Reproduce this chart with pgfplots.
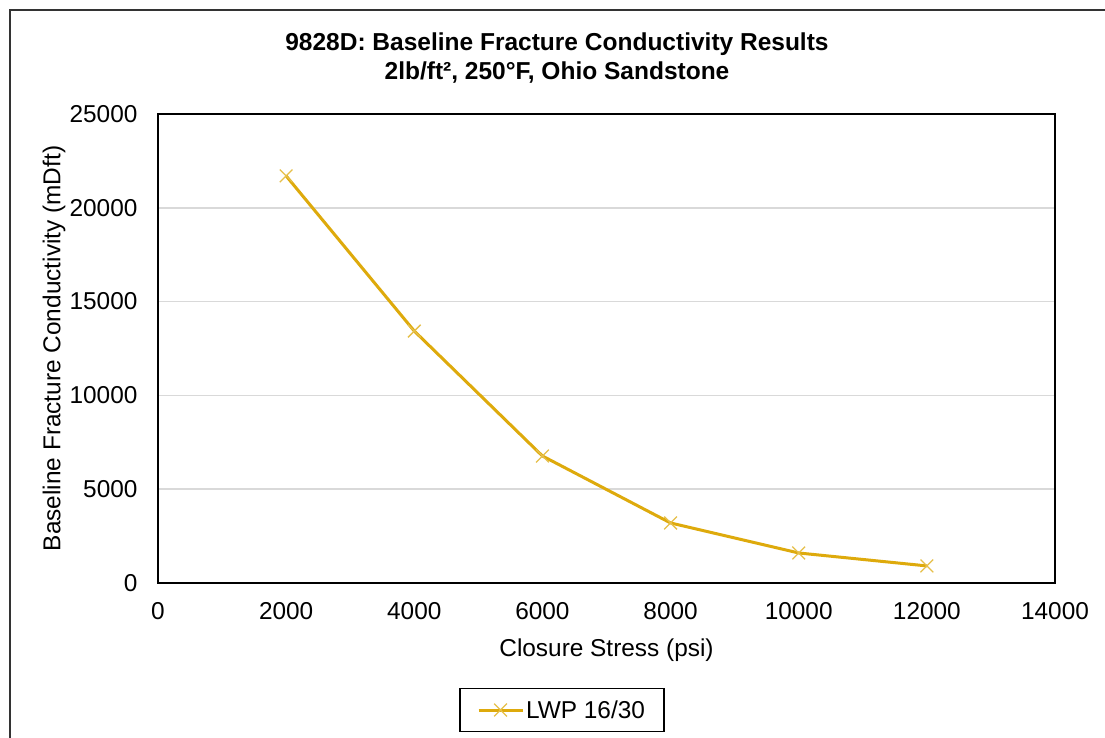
\documentclass[border=0pt]{standalone}
\usepackage{fontspec}
\setmainfont{Liberation Sans}
\usepackage{pgfplots}
\pgfplotsset{compat=1.18}
\definecolor{gold}{RGB}{222,170,12}
\definecolor{gridgray}{RGB}{217,217,217}
\begin{document}
\begin{tikzpicture}[x=1pt,y=1pt]
\useasboundingbox (0,0) rectangle (1105,738);
\fill[white] (0,0) rectangle (1105,738);
% outer chart frame (cut off at right and bottom)
\draw[line width=2.2pt, black!80] (10,0) -- (10,728) -- (1105,728);
\node[font=\fontsize{24.5}{29}\selectfont\bfseries, align=center] at (557,679.5)
  {9828D: Baseline Fracture Conductivity Results\\2lb/ft², 250°F, Ohio Sandstone};
\begin{axis}[
    at={(158pt,155pt)}, anchor=south west,
    scale only axis, width=897pt, height=469pt,
    xmin=0, xmax=14000, ymin=0, ymax=25000,
    xtick distance=2000, ytick distance=5000,
    scaled ticks=false,
    major tick length=0pt,
    ymajorgrids, grid style={gridgray, line width=1.5pt},
    axis line style={black, line width=1.6pt},
    /pgf/number format/assume math mode=true,
    /pgf/number format/1000 sep={},
    tick label style={font=\fontsize{24.4}{28}\selectfont},
    label style={font=\fontsize{24.4}{28}\selectfont},
    xticklabel style={yshift=-16pt},
    yticklabel style={xshift=-17pt},
    xlabel={Closure Stress (psi)},
    ylabel={Baseline Fracture Conductivity (mDft)},
    xlabel style={at={(axis description cs:0.5,-0.143)}, anchor=center},
    ylabel style={at={(axis description cs:-0.116,0.5)}, anchor=center},
    legend style={at={(axis description cs:0.4504,-0.2708)}, anchor=center,
        draw=black, line width=1.5pt, inner xsep=17pt, inner ysep=10pt,
        font=\fontsize{24.4}{28}\selectfont},
    legend cell align=left,
    legend image code/.code={%
        \draw[mark repeat=2,mark phase=2,#1]
        plot coordinates {(0pt,0pt) (22pt,0pt) (44pt,0pt)};},
]
\addplot[gold, line width=3pt, mark=x, mark size=9pt,
    mark options={line width=1.3pt, solid, gold!75}]
coordinates {
    (2000,21700)
    (4000,13430)
    (6000,6770)
    (8000,3200)
    (10000,1600)
    (12000,910)
};
\addlegendentry{LWP 16/30}
\end{axis}
\end{tikzpicture}
\end{document}
